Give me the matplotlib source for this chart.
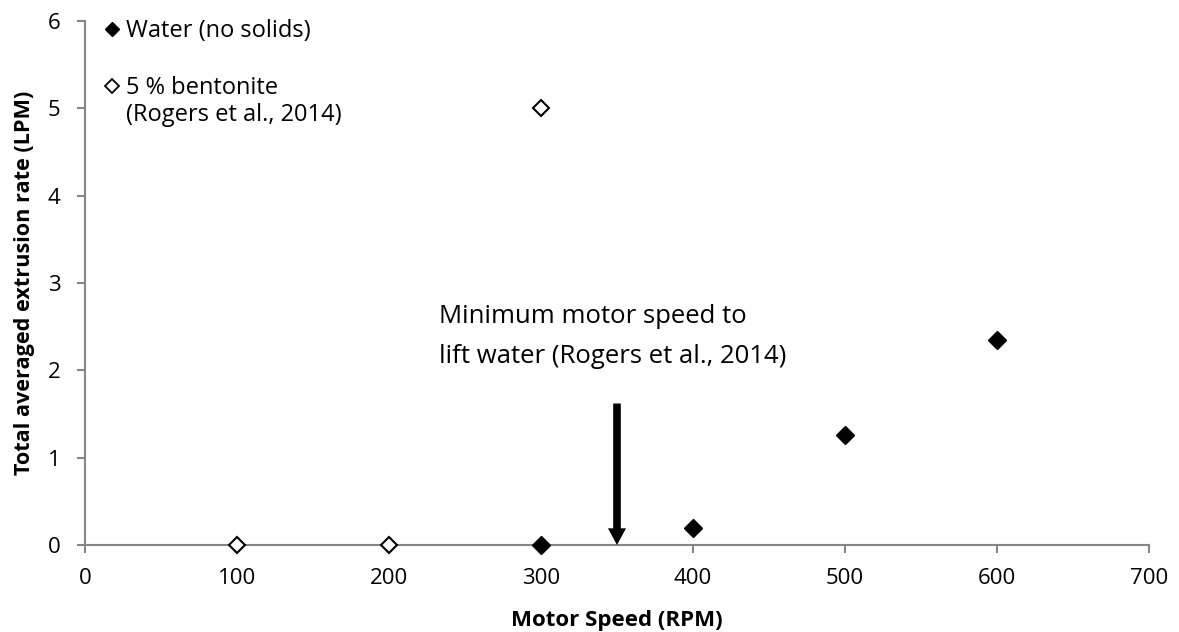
import matplotlib.pyplot as plt
from matplotlib.lines import Line2D

plt.rcParams['font.family'] = ['Open Sans', 'DejaVu Sans']

# data
water_rpm = [300, 400, 500, 600]
water_rate = [0.0, 0.2, 1.26, 2.35]
bento_rpm = [100, 200, 300]
bento_rate = [0.0, 0.0, 5.0]
x_ticks = [0, 100, 200, 300, 400, 500, 600, 700]
y_ticks = [0, 1, 2, 3, 4, 5, 6]
arrow_x = 350
arrow_top = 1.62
note_x = 233
note_y = 2.39

W, H = 1179, 632
fig = plt.figure(figsize=(W / 100, H / 100), dpi=100)
ax = fig.add_axes([85 / W, 1 - 545 / H, (1149 - 85) / W, (545 - 21) / H])

ax.plot(water_rpm, water_rate, linestyle='none', marker='D', markersize=9,
        markerfacecolor='black', markeredgecolor='black', clip_on=False, zorder=5)
ax.plot(bento_rpm, bento_rate, linestyle='none', marker='D', markersize=8.6,
        markerfacecolor='white', markeredgecolor='black', markeredgewidth=1.5,
        clip_on=False, zorder=5)

# arrow to minimum motor speed
ax.annotate('', xy=(arrow_x, 0), xytext=(arrow_x, arrow_top),
            arrowprops=dict(width=5.5, headwidth=13, headlength=12,
                            facecolor='black', edgecolor='none', shrink=0),
            zorder=6)
ax.text(note_x, note_y, 'Minimum motor speed to\nlift water (Rogers et al., 2014)',
        fontsize=18.5, va='center', ha='left', linespacing=1.8)

ax.set_xlim(0, 700)
ax.set_ylim(0, 6)
ax.set_xticks(x_ticks)
ax.set_yticks(y_ticks)
for s in ['top', 'right']:
    ax.spines[s].set_visible(False)
for s in ['left', 'bottom']:
    ax.spines[s].set_color('#868686')
    ax.spines[s].set_linewidth(1.5)
ax.tick_params(axis='both', direction='out', length=5.5, color='#868686',
               width=1.5, labelsize=16)
ax.tick_params(axis='x', pad=11)
ax.tick_params(axis='y', pad=12)
ax.set_xlabel('Motor Speed (RPM)', fontsize=16, fontweight='bold', labelpad=15)
ax.set_ylabel('Total averaged extrusion rate (LPM)', fontsize=15.6,
              fontweight='bold', labelpad=9)

# legend: two blocks so the open diamond lines up with the first text line
h_water = Line2D([], [], linestyle='none', marker='D', markersize=7.5,
                 markerfacecolor='black', markeredgecolor='black')
h_bento = Line2D([], [], linestyle='none', marker='D', markersize=7.2,
                 markerfacecolor='white', markeredgecolor='black', markeredgewidth=1.3)
h_none = Line2D([], [], linestyle='none', marker=None)
leg_kw = dict(loc='upper left', bbox_transform=fig.transFigure, frameon=False,
              fontsize=17, handlelength=0.6, handletextpad=0.3,
              labelspacing=0.13, borderpad=0, borderaxespad=0)
leg1 = ax.legend([h_water], ['Water (no solids)'],
                 bbox_to_anchor=(105 / W, 1 - 19 / H), **leg_kw)
ax.add_artist(leg1)
ax.legend([h_bento, h_none], ['5 % bentonite', '(Rogers et al., 2014)'],
          bbox_to_anchor=(105 / W, 1 - 76 / H), **leg_kw)

fig.savefig('out.png', dpi=100)
